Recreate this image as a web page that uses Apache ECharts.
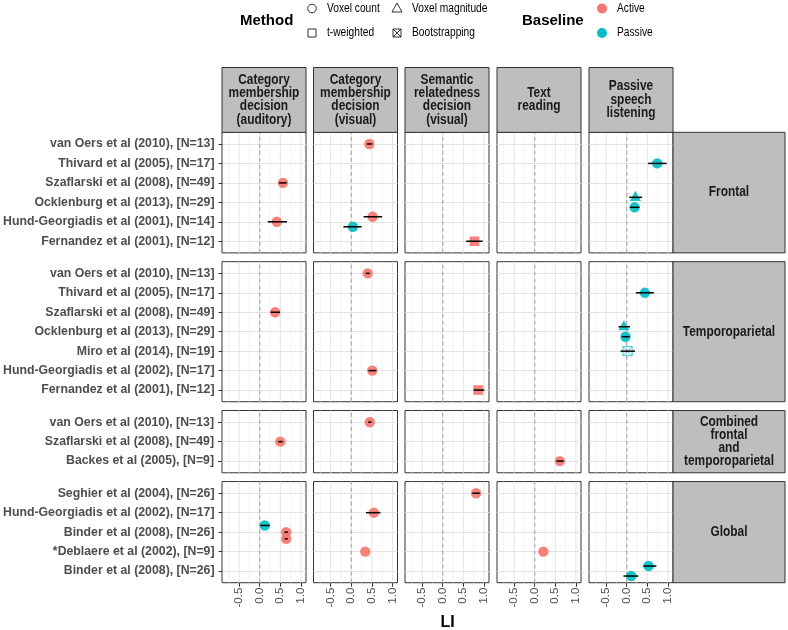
<!DOCTYPE html>
<html><head><meta charset="utf-8">
<script src="https://cdn.jsdelivr.net/npm/echarts@6/dist/echarts.min.js"></script>
<style>html,body{margin:0;padding:0;background:#fff}#c{width:788px;height:630px}</style>
</head><body><div id="c"></div>
<script>
// ---------- DATA ----------
const tasks = ["Category\nmembership\ndecision\n(auditory)", "Category\nmembership\ndecision\n(visual)", "Semantic\nrelatedness\ndecision\n(visual)", "Text\nreading", "Passive\nspeech\nlistening"];
const regions = ["Frontal", "Temporoparietal", "Combined\nfrontal\nand\ntemporoparietal", "Global"];
const studiesFrontal = ["van Oers et al (2010), [N=13]", "Thivard et al (2005), [N=17]", "Szaflarski et al (2008), [N=49]", "Ocklenburg et al (2013), [N=29]", "Hund-Georgiadis et al (2001), [N=14]", "Fernandez et al (2001), [N=12]"];
const studiesTemporo = ["van Oers et al (2010), [N=13]", "Thivard et al (2005), [N=17]", "Szaflarski et al (2008), [N=49]", "Ocklenburg et al (2013), [N=29]", "Miro et al (2014), [N=19]", "Hund-Georgiadis et al (2002), [N=17]", "Fernandez et al (2001), [N=12]"];
const studiesCombined = ["van Oers et al (2010), [N=13]", "Szaflarski et al (2008), [N=49]", "Backes et al (2005), [N=9]"];
const studiesGlobal = ["Seghier et al (2004), [N=26]", "Hund-Georgiadis et al (2002), [N=17]", "Binder et al (2008), [N=26]", "*Deblaere et al (2002), [N=9]", "Binder et al (2008), [N=26]"];
const studiesByRegion = [studiesFrontal, studiesTemporo, studiesCombined, studiesGlobal];

const baselineNames = ["Active", "Passive"];
const methodNames = ["Voxel count", "Voxel magnitude", "t-weighted", "Bootstrapping"];

// one entry per estimate
const ptRegion   = [0, 0, 0, 0, 0, 0, 0, 0, 0,   1, 1, 1, 1, 1, 1, 1, 1,   2, 2, 2,   3, 3, 3, 3, 3, 3, 3, 3, 3];
const ptTask     = [0, 0, 1, 1, 1, 2, 4, 4, 4,   0, 1, 1, 2, 4, 4, 4, 4,   0, 1, 3,   0, 0, 0, 1, 1, 2, 3, 4, 4];
const ptStudy    = [2, 4, 0, 4, 4, 5, 1, 3, 3,   2, 0, 5, 6, 1, 3, 3, 4,   1, 0, 2,   2, 2, 2, 1, 3, 0, 3, 4, 4];
const ptLI       = [0.56, 0.41, 0.44, 0.52, 0.04, 0.77, 0.74, 0.21, 0.19,   0.37, 0.40, 0.51, 0.86, 0.44, -0.07, -0.03, 0.02,   0.50, 0.45, 0.61,   0.115, 0.64, 0.64, 0.55, 0.34, 0.81, 0.21, 0.53, 0.11];
const ptLo       = [0.46, 0.19, 0.38, 0.30, -0.19, 0.57, 0.52, 0.06, 0.08,   0.26, 0.35, 0.42, 0.75, 0.22, -0.20, -0.12, -0.15,   0.45, 0.41, 0.53,   0.01, 0.60, 0.60, 0.36, null, 0.72, null, 0.40, -0.08];
const ptHi       = [0.65, 0.66, 0.51, 0.75, 0.25, 0.97, 0.97, 0.37, 0.31,   0.49, 0.45, 0.61, 1.01, 0.66, 0.08, 0.07, 0.20,   0.56, 0.49, 0.70,   0.24, 0.68, 0.68, 0.71, null, 0.90, null, 0.72, 0.28];
const ptBaseline = [0, 0, 0, 0, 1, 0, 1, 1, 1,   0, 0, 0, 0, 1, 1, 1, 1,   0, 0, 0,   1, 0, 0, 0, 0, 0, 0, 1, 1];
const ptMethod   = [0, 0, 0, 0, 0, 2, 0, 1, 0,   0, 0, 0, 2, 0, 1, 0, 3,   0, 0, 0,   0, 0, 0, 0, 0, 0, 0, 0, 0];

const xMin = -0.917, xMax = 1.124;
const xMajor = [-0.5, 0.0, 0.5, 1.0];
const xMinor = [-0.75, -0.25, 0.25, 0.75];

// ---------- STYLE / LAYOUT ----------
const baseColors = ['#F8766D', '#00BFC4'];
const FONT = '"Liberation Sans", Arial, Helvetica, sans-serif';
const colLeft = [222, 313.5, 405, 497, 589];
const colW = 84;
const U = 19.45, GAP = 8.8, TOP0 = 132.3, STRIP_TOP = 67.5;
const DODGE = 20;
const NARROW = 0.85;
const rowTop = [], rowH = [];
(function () {
  let y = TOP0;
  studiesByRegion.forEach(s => { rowTop.push(y); const h = (s.length - 1 + 1.2) * U; rowH.push(h); y += h + GAP; });
})();

// dodge offsets (computed from group membership)
const groupCount = {}, groupIdx = [];
ptLI.forEach((v, i) => {
  const k = ptRegion[i] + '|' + ptTask[i] + '|' + ptStudy[i];
  groupCount[k] = (groupCount[k] || 0);
  groupIdx.push(groupCount[k]);
  groupCount[k]++;
});
function dodgeOffset(i) {
  const k = ptRegion[i] + '|' + ptTask[i] + '|' + ptStudy[i];
  const n = groupCount[k];
  return (groupIdx[i] - (n - 1) / 2) * DODGE / n;
}

const grid = [], xAxis = [], yAxis = [], series = [];

function drawSymbol(m, cx, cy, col, children) {
  if (m === 0) {
    children.push({ type: 'circle', shape: { cx: cx, cy: cy, r: 5.2 }, style: { fill: col, opacity: 0.92 } });
  } else if (m === 1) {
    children.push({ type: 'polygon', shape: { points: [[cx, cy - 6.5], [cx - 5.6, cy + 3.6], [cx + 5.6, cy + 3.6]] }, style: { fill: col, opacity: 0.92 } });
  } else if (m === 2) {
    children.push({ type: 'rect', shape: { x: cx - 4.8, y: cy - 4.8, width: 9.6, height: 9.6 }, style: { fill: col, opacity: 0.92 } });
  } else {
    const s = 4.6;
    children.push({ type: 'rect', shape: { x: cx - s, y: cy - s, width: 2 * s, height: 2 * s }, style: { fill: 'none', stroke: col, lineWidth: 1, opacity: 0.75 } });
    children.push({ type: 'line', shape: { x1: cx - s, y1: cy - s, x2: cx + s, y2: cy + s }, style: { stroke: col, lineWidth: 1, opacity: 0.75 } });
    children.push({ type: 'line', shape: { x1: cx - s, y1: cy + s, x2: cx + s, y2: cy - s }, style: { stroke: col, lineWidth: 1, opacity: 0.75 } });
  }
}

for (let r = 0; r < regions.length; r++) {
  const studies = studiesByRegion[r];
  for (let c = 0; c < tasks.length; c++) {
    // frame grid (full panel)
    const fi = grid.length;
    grid.push({ left: colLeft[c], top: rowTop[r], width: colW, height: rowH[r], show: true, backgroundColor: '#fff', borderColor: '#333', borderWidth: 1 });
    xAxis.push({
      gridIndex: fi, type: 'value', min: xMin, max: xMax, position: 'bottom',
      axisLine: { show: false, onZero: false }, splitLine: { show: false },
      axisTick: { show: r === regions.length - 1, customValues: xMajor, length: 4, lineStyle: { color: '#333', width: 1 } },
      axisLabel: { show: r === regions.length - 1, customValues: xMajor, rotate: 90, margin: 5, formatter: v => Number(v).toFixed(1), color: '#4D4D4D', fontSize: 11.5, fontFamily: FONT }
    });
    yAxis.push({ gridIndex: fi, type: 'value', min: 0, max: 1, show: false });
    // vertical grid lines
    series.push({
      type: 'custom', xAxisIndex: fi, yAxisIndex: fi, z: 1, silent: true,
      data: xMinor.map(v => [v, 0]).concat(xMajor.map(v => [v, 1])),
      renderItem: (p, api) => {
        const x = api.value(0), maj = api.value(1) === 1;
        const a = api.coord([x, 0]), b = api.coord([x, 1]);
        return { type: 'line', shape: { x1: a[0], y1: a[1], x2: b[0], y2: b[1] }, style: { stroke: maj ? '#E3E3E3' : '#EFEFEF', lineWidth: maj ? 1 : 0.7 } };
      }
    });
    // zero reference line
    series.push({
      type: 'custom', xAxisIndex: fi, yAxisIndex: fi, z: 3, silent: true,
      data: [[0, 0]],
      renderItem: (p, api) => {
        const a = api.coord([0, 0]), b = api.coord([0, 1]);
        return { type: 'line', shape: { x1: a[0], y1: a[1], x2: b[0], y2: b[1] }, style: { stroke: '#A0A0A0', lineWidth: 1, lineDash: [4, 3] } };
      }
    });

    // data grid (category rows)
    const di = grid.length;
    grid.push({ left: colLeft[c], top: rowTop[r] + 0.6 * U, width: colW, height: (studies.length - 1) * U });
    xAxis.push({ gridIndex: di, type: 'value', min: xMin, max: xMax, show: false });
    yAxis.push({
      gridIndex: di, type: 'category', data: studies, inverse: true, boundaryGap: false, z: 1, position: 'left',
      axisLine: { show: false, onZero: false },
      axisTick: { show: c === 0, interval: 0, length: 4, lineStyle: { color: '#333', width: 1 } },
      axisLabel: { show: c === 0, interval: 0, margin: 8, color: '#4D4D4D', fontWeight: 'bold', fontSize: 12.3, fontFamily: FONT },
      splitLine: { show: true, interval: 0, lineStyle: { color: '#E3E3E3', width: 1 } }
    });

    const items = [];
    ptLI.forEach((v, i) => {
      if (ptRegion[i] === r && ptTask[i] === c) {
        items.push([v, ptStudy[i], ptLo[i] == null ? NaN : ptLo[i], ptHi[i] == null ? NaN : ptHi[i], ptBaseline[i], ptMethod[i], dodgeOffset(i)]);
      }
    });
    if (items.length) {
      series.push({
        type: 'custom', xAxisIndex: di, yAxisIndex: di, z: 5, silent: true,
        data: items,
        renderItem: (p, api) => {
          const cat = api.value(1);
          const pt = api.coord([api.value(0), cat]);
          const cx = pt[0], cy = pt[1] + api.value(6);
          const col = baseColors[api.value(4)];
          const children = [];
          drawSymbol(api.value(5), cx, cy, col, children);
          const lo = api.value(2), hi = api.value(3);
          if (!isNaN(lo) && !isNaN(hi)) {
            const a = api.coord([lo, cat]), b = api.coord([hi, cat]);
            children.push({ type: 'line', shape: { x1: a[0], y1: cy, x2: b[0], y2: cy }, style: { stroke: '#000', lineWidth: 1.5 } });
          }
          return { type: 'group', children: children };
        }
      });
    }
  }
}

// ---------- STRIPS, LEGEND, TITLE ----------
const graphic = [];
const stripFont = 'bold 14px ' + FONT;
tasks.forEach((t, c) => {
  const h = TOP0 - STRIP_TOP;
  graphic.push({ type: 'rect', z: 10, silent: true, shape: { x: colLeft[c], y: STRIP_TOP, width: colW, height: h }, style: { fill: '#BEBEBE', stroke: '#333', lineWidth: 1 } });
  graphic.push({ type: 'text', z: 11, silent: true, x: colLeft[c] + colW / 2, y: STRIP_TOP + h / 2, scaleX: NARROW, style: { text: t, font: stripFont, fill: '#1A1A1A', textAlign: 'center', textVerticalAlign: 'middle', verticalAlign: 'middle', lineHeight: 13.3 } });
});
const rsx = colLeft[4] + colW, rsw = 112;
regions.forEach((t, r) => {
  graphic.push({ type: 'rect', z: 10, silent: true, shape: { x: rsx, y: rowTop[r], width: rsw, height: rowH[r] }, style: { fill: '#BEBEBE', stroke: '#333', lineWidth: 1 } });
  graphic.push({ type: 'text', z: 11, silent: true, x: rsx + rsw / 2, y: rowTop[r] + rowH[r] / 2, scaleX: NARROW, style: { text: t, font: stripFont, fill: '#1A1A1A', textAlign: 'center', textVerticalAlign: 'middle', verticalAlign: 'middle', lineHeight: 13.3 } });
});

function txt(s, x, y, font, align, sx) {
  graphic.push({ type: 'text', z: 11, silent: true, x: x, y: y, scaleX: sx || 1, style: { text: s, font: font, fill: '#000', textAlign: align || 'left', textVerticalAlign: 'middle', verticalAlign: 'middle' } });
}
const legFont = '12px ' + FONT, legTitle = 'bold 15px ' + FONT;
txt('Method', 240, 21, legTitle);
const ly1 = 8.5, ly2 = 33;
// legend keys (hollow shapes)
graphic.push({ type: 'circle', z: 11, silent: true, shape: { cx: 312, cy: ly1, r: 4.3 }, style: { fill: 'none', stroke: '#000', lineWidth: 0.8 } });
graphic.push({ type: 'polygon', z: 11, silent: true, shape: { points: [[397, ly1 - 5.5], [392, ly1 + 3.5], [402, ly1 + 3.5]] }, style: { fill: 'none', stroke: '#000', lineWidth: 0.8 } });
graphic.push({ type: 'rect', z: 11, silent: true, shape: { x: 308, y: ly2 - 4, width: 8, height: 8 }, style: { fill: 'none', stroke: '#000', lineWidth: 0.8 } });
graphic.push({ type: 'rect', z: 11, silent: true, shape: { x: 393, y: ly2 - 4, width: 8, height: 8 }, style: { fill: 'none', stroke: '#000', lineWidth: 0.8 } });
graphic.push({ type: 'line', z: 11, silent: true, shape: { x1: 393, y1: ly2 - 4, x2: 401, y2: ly2 + 4 }, style: { stroke: '#000', lineWidth: 0.8 } });
graphic.push({ type: 'line', z: 11, silent: true, shape: { x1: 393, y1: ly2 + 4, x2: 401, y2: ly2 - 4 }, style: { stroke: '#000', lineWidth: 0.8 } });
txt(methodNames[0], 327, ly1, legFont, 'left', NARROW);
txt(methodNames[1], 412, ly1, legFont, 'left', NARROW);
txt(methodNames[2], 327, ly2, legFont, 'left', NARROW);
txt(methodNames[3], 412, ly2, legFont, 'left', NARROW);
txt('Baseline', 522, 21, legTitle);
graphic.push({ type: 'circle', z: 11, silent: true, shape: { cx: 602, cy: ly1, r: 5 }, style: { fill: baseColors[0] } });
graphic.push({ type: 'circle', z: 11, silent: true, shape: { cx: 602, cy: ly2, r: 5 }, style: { fill: baseColors[1] } });
txt(baselineNames[0], 617, ly1, legFont, 'left', NARROW);
txt(baselineNames[1], 617, ly2, legFont, 'left', NARROW);
txt('LI', (colLeft[0] + colLeft[4] + colW) / 2, 623, 'bold 16px ' + FONT, 'center');

const chart = echarts.init(document.getElementById('c'), null, { renderer: 'canvas' });
chart.setOption({ animation: false, backgroundColor: '#fff', grid: grid, xAxis: xAxis, yAxis: yAxis, series: series, graphic: graphic });
</script></body></html>
